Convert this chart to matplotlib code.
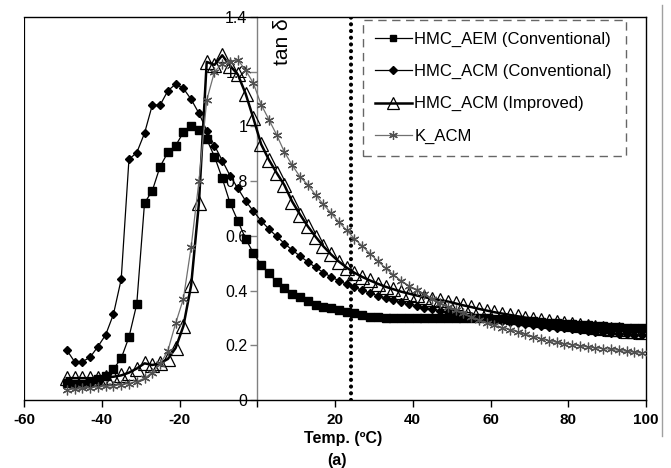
import matplotlib
matplotlib.use("Agg")
import matplotlib.pyplot as plt
from matplotlib.lines import Line2D

plt.rcParams['font.family'] = ['Liberation Sans', 'DejaVu Sans']

temps = [-49, -47, -45, -43, -41, -39, -37, -35, -33, -31,
         -29, -27, -25, -23, -21, -19, -17, -15, -13, -11,
         -9, -7, -5, -3, -1, 1, 3, 5, 7, 9,
         11, 13, 15, 17, 19, 21, 23, 25, 27, 29,
         31, 33, 35, 37, 39, 41, 43, 45, 47, 49,
         51, 53, 55, 57, 59, 61, 63, 65, 67, 69,
         71, 73, 75, 77, 79, 81, 83, 85, 87, 89,
         91, 93, 95, 97, 99]

hmc_aem_conv = [0.062, 0.058, 0.060, 0.065, 0.075, 0.087, 0.113, 0.152, 0.230, 0.350,
                0.720, 0.765, 0.853, 0.905, 0.930, 0.978, 1.003, 0.987, 0.953, 0.890,
                0.810, 0.720, 0.655, 0.590, 0.537, 0.493, 0.463, 0.432, 0.408, 0.386,
                0.376, 0.363, 0.347, 0.341, 0.335, 0.329, 0.323, 0.317, 0.311, 0.305,
                0.302, 0.300, 0.300, 0.300, 0.300, 0.300, 0.300, 0.301, 0.301, 0.301,
                0.301, 0.301, 0.301, 0.300, 0.299, 0.297, 0.295, 0.293, 0.291, 0.289,
                0.287, 0.285, 0.283, 0.281, 0.279, 0.277, 0.275, 0.273, 0.271, 0.269,
                0.268, 0.266, 0.265, 0.263, 0.262]

hmc_acm_conv = [0.183, 0.140, 0.140, 0.156, 0.195, 0.238, 0.313, 0.441, 0.880, 0.904,
                0.975, 1.078, 1.078, 1.130, 1.155, 1.139, 1.099, 1.048, 0.985, 0.930,
                0.875, 0.820, 0.774, 0.728, 0.690, 0.655, 0.625, 0.598, 0.572, 0.548,
                0.526, 0.505, 0.485, 0.466, 0.450, 0.436, 0.423, 0.412, 0.401, 0.391,
                0.381, 0.373, 0.365, 0.358, 0.351, 0.345, 0.338, 0.332, 0.326, 0.321,
                0.316, 0.311, 0.306, 0.301, 0.297, 0.293, 0.289, 0.285, 0.281, 0.278,
                0.274, 0.271, 0.268, 0.265, 0.262, 0.259, 0.256, 0.253, 0.250, 0.248,
                0.245, 0.243, 0.240, 0.238, 0.236]

hmc_acm_impr = [0.080, 0.080, 0.080, 0.080, 0.080, 0.083, 0.085, 0.090, 0.100, 0.115,
                0.134, 0.128, 0.134, 0.150, 0.190, 0.270, 0.420, 0.720, 1.236, 1.225,
                1.260, 1.222, 1.190, 1.120, 1.030, 0.935, 0.878, 0.830, 0.785, 0.725,
                0.678, 0.635, 0.597, 0.562, 0.532, 0.506, 0.484, 0.465, 0.450, 0.437,
                0.425, 0.414, 0.405, 0.396, 0.389, 0.382, 0.376, 0.370, 0.365, 0.360,
                0.353, 0.346, 0.340, 0.333, 0.327, 0.321, 0.316, 0.311, 0.306, 0.301,
                0.297, 0.293, 0.289, 0.285, 0.281, 0.277, 0.274, 0.271, 0.267, 0.264,
                0.261, 0.258, 0.254, 0.251, 0.247]

k_acm = [0.037, 0.040, 0.043, 0.045, 0.048, 0.050, 0.053, 0.056, 0.060, 0.067,
         0.080, 0.100, 0.130, 0.180, 0.280, 0.370, 0.560, 0.800, 1.096, 1.200,
         1.230, 1.236, 1.243, 1.206, 1.158, 1.080, 1.025, 0.969, 0.906, 0.858,
         0.816, 0.787, 0.750, 0.715, 0.683, 0.650, 0.620, 0.590, 0.563, 0.535,
         0.508, 0.482, 0.458, 0.436, 0.418, 0.402, 0.388, 0.371, 0.355, 0.341,
         0.328, 0.317, 0.304, 0.292, 0.282, 0.273, 0.265, 0.257, 0.249, 0.240,
         0.232, 0.224, 0.217, 0.211, 0.206, 0.202, 0.198, 0.194, 0.191, 0.188,
         0.185, 0.182, 0.178, 0.175, 0.171]

labels = ["HMC_AEM (Conventional)", "HMC_ACM (Conventional)",
          "HMC_ACM (Improved)", "K_ACM"]
x_ticks = [-60, -40, -20, 0, 20, 40, 60, 80, 100]
x_ticklabels = ["-60", "-40", "-20", "", "20", "40", "60", "80", "100"]
y_ticks = [0, 0.2, 0.4, 0.6, 0.8, 1.0, 1.2, 1.4]
y_ticklabels = ["0", "0.2", "0.4", "0.6", "0.8", "1", "1.2", "1.4"]
ref_temp = 24

fig = plt.figure(figsize=(6.71, 4.68), dpi=100)
ax = fig.add_axes([24/671, 68/468, 622/671, 383/468])

ax.plot(temps, hmc_aem_conv, color='black', lw=0.9, marker='s', ms=5.5,
        mfc='black', mec='black', label=labels[0], zorder=3)
ax.plot(temps, hmc_acm_conv, color='black', lw=0.9, marker='D', ms=4.3,
        mfc='black', mec='black', label=labels[1], zorder=3)
ax.plot(temps, hmc_acm_impr, color='black', lw=1.8, marker='^', ms=10,
        mfc='none', mec='black', mew=0.9, label=labels[2], zorder=3)
ax.plot(temps, k_acm, color='#707070', lw=0.9, marker=(6, 2, 0), ms=7,
        mec='#505050', mew=0.9, label=labels[3], zorder=3)

ax.axvline(ref_temp, color='black', lw=3.0, linestyle=(0, (0.01, 1.6)),
           dash_capstyle='round', zorder=2)

ax.set_xlim(-60, 100)
ax.set_ylim(0, 1.4)

ax.spines['left'].set_position(('data', 0))
ax.spines['left'].set_color('#808080')
ax.spines['left'].set_linewidth(1.0)
for s in ['top', 'right', 'bottom']:
    ax.spines[s].set_color('black')
    ax.spines[s].set_linewidth(1.0)
ax.axvline(-60, color='black', lw=1.6, zorder=4)

ax.set_xticks(x_ticks)
ax.set_xticklabels(x_ticklabels, fontsize=11, fontweight='bold')
ax.set_yticks(y_ticks)
ax.set_yticklabels(y_ticklabels, fontsize=11.5)
ax.tick_params(axis='x', direction='out', length=5, width=1, color='black', pad=4)
ax.tick_params(axis='y', direction='out', length=5, width=1, color='#808080', pad=2)

ax.text(6.5, 1.395, "tan \u03b4", rotation=90,
        ha='center', va='top', fontsize=15)

fig.text(343 / 671, 1 - 439 / 468, "Temp. (\u00baC)", ha='center', va='center',
         fontsize=11.5, fontweight='bold')
fig.text(337 / 671, 1 - 461 / 468, "(a)", ha='center', va='center',
         fontsize=11.5, fontweight='bold')

leg = ax.legend(loc='upper left', bbox_to_anchor=(0.545, 0.992, 0.423, 0.0),
                mode='expand', borderaxespad=0, fontsize=12, handlelength=2.2,
                handletextpad=0.15, labelspacing=1.02, borderpad=0.72,
                fancybox=False, frameon=True, markerscale=0.9)
fr = leg.get_frame()
fr.set_edgecolor('#404040')
fr.set_linestyle((0, (6, 4)))
fr.set_linewidth(1.0)
leg.set_zorder(5)

fig.add_artist(Line2D([662/671, 662/671], [1 - 5/468, 1 - 436/468],
                      transform=fig.transFigure, color='#a0a0a0', lw=1.0))

fig.savefig("out.png", dpi=100)
